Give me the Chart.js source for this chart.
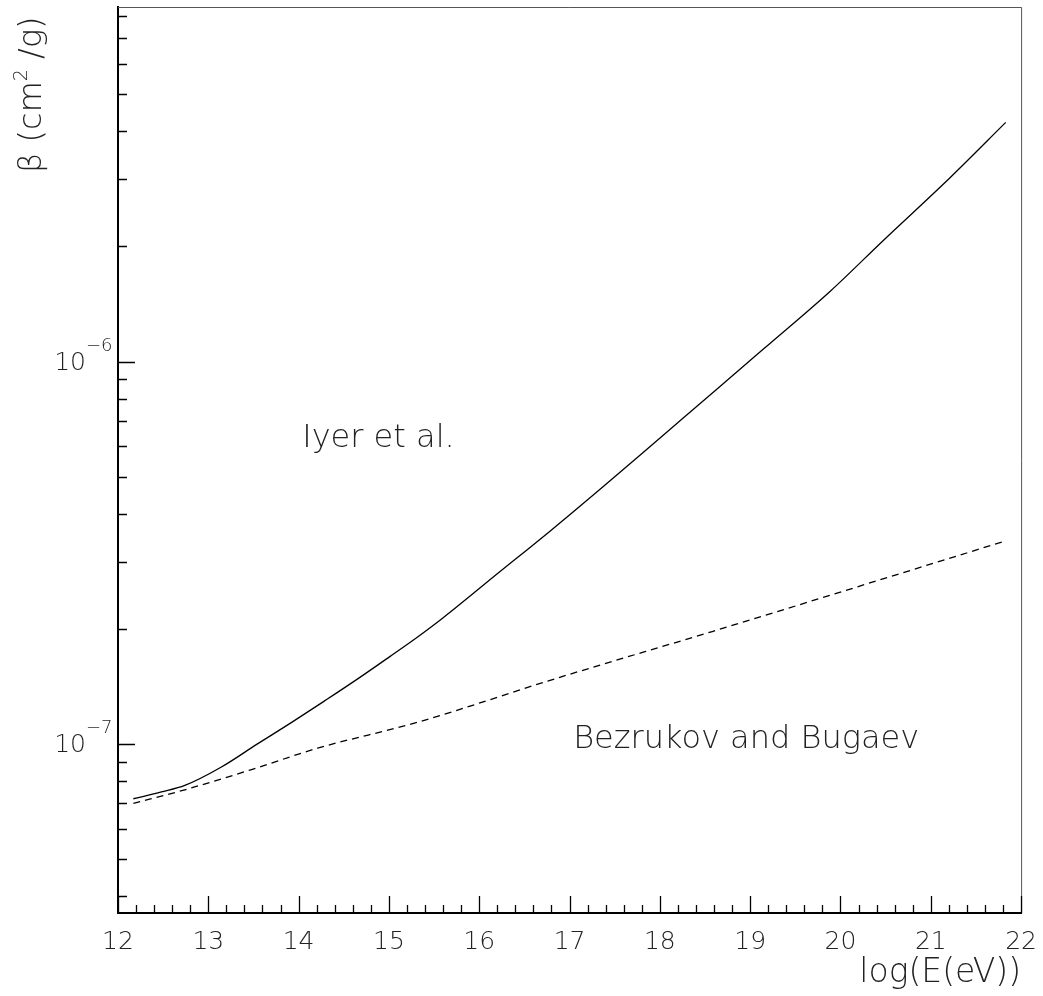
<!DOCTYPE html>
<html>
<head>
<meta charset="utf-8">
<script src="https://cdn.jsdelivr.net/npm/chart.js@4.4.0/dist/chart.umd.min.js"></script>
<style>
  body { margin: 0; background: #fff; }
  canvas { display: block; }
</style>
</head>
<body>
<canvas id="betaChart" width="1043" height="996"></canvas>
<script>
// log(E/eV) and beta (cm^2/g)
const iyerLogE = [12.17, 12.48, 12.74, 13.14, 13.54, 13.91, 14.28, 14.65, 15.01, 15.31, 15.59, 16.21, 16.80, 17.39, 18.05, 18.64, 19.15, 19.89, 20.48, 21.21, 21.83];
const iyerBeta = [7.2e-8, 7.5e-8, 7.8e-8, 8.7e-8, 1.0e-7, 1.135e-7, 1.294e-7, 1.479e-7, 1.694e-7, 1.90e-7, 2.13e-7, 2.80e-7, 3.63e-7, 4.75e-7, 6.46e-7, 8.5e-7, 1.08e-6, 1.53e-6, 2.08e-6, 3.02e-6, 4.22e-6];

const bbLogE = [12.17, 12.74, 13.47, 14.21, 15.31, 16.87, 18.58, 20.44, 21.83];
const bbBeta = [7.0e-8, 7.6e-8, 8.57e-8, 9.76e-8, 1.14e-7, 1.49e-7, 1.97e-7, 2.69e-7, 3.4e-7];

// axis ticks
const xMajorTicks = [12, 13, 14, 15, 16, 17, 18, 19, 20, 21, 22];
const xMinorStep = 0.2;
const yMajorTicks = [1e-7, 1e-6];
const yMajorExp = ['-7', '-6'];
const yMinorTicks = [4e-8, 5e-8, 6e-8, 7e-8, 8e-8, 9e-8,
                     2e-7, 3e-7, 4e-7, 5e-7, 6e-7, 7e-7, 8e-7, 9e-7,
                     2e-6, 3e-6, 4e-6, 5e-6, 6e-6, 7e-6, 8e-6];

// curve labels (placed in data coordinates)
const curveLabels = [
  { text: 'Iyer et al.', x: 14.04, y: 5.98e-7 },
  { text: 'Bezrukov and Bugaev', x: 17.04, y: 9.78e-8 }
];

const FONT = '"DejaVu Sans", sans-serif';

const toPoints = (xs, ys) => xs.map((x, i) => ({ x: x, y: ys[i] }));

// inward ROOT-style ticks, frame, y labels with exponents, curve labels, y title
const decorations = {
  id: 'decorations',
  afterDraw(chart) {
    const ctx = chart.ctx;
    const xs = chart.scales.x;
    const ys = chart.scales.y;
    const area = chart.chartArea;
    ctx.save();

    // thin frame on top and right
    ctx.strokeStyle = '#555';
    ctx.lineWidth = 1;
    ctx.beginPath();
    ctx.moveTo(area.left, area.top + 0.5);
    ctx.lineTo(area.right + 0.5, area.top + 0.5);
    ctx.lineTo(area.right + 0.5, area.bottom);
    ctx.stroke();

    ctx.strokeStyle = '#000';
    ctx.lineWidth = 1.3;
    ctx.beginPath();
    for (let v = xs.min; v <= xs.max + 1e-9; v += xMinorStep) {
      const px = Math.round(xs.getPixelForValue(v)) + 0.5;
      const major = xMajorTicks.some(t => Math.abs(t - v) < 1e-6);
      const len = major ? 17 : 8;
      ctx.moveTo(px, area.bottom);
      ctx.lineTo(px, area.bottom - len);
    }
    yMajorTicks.forEach(v => {
      const py = Math.round(ys.getPixelForValue(v)) + 0.5;
      ctx.moveTo(area.left, py);
      ctx.lineTo(area.left + 17, py);
    });
    yMinorTicks.forEach(v => {
      const py = Math.round(ys.getPixelForValue(v)) + 0.5;
      ctx.moveTo(area.left, py);
      ctx.lineTo(area.left + 9, py);
    });
    ctx.stroke();

    // y labels: 10 with superscript exponent
    ctx.fillStyle = '#222';
    ctx.textBaseline = 'alphabetic';
    yMajorTicks.forEach((v, i) => {
      const py = ys.getPixelForValue(v);
      ctx.font = '200 25px ' + FONT;
      ctx.textAlign = 'right';
      ctx.fillText('10', 86, py + 8);
      ctx.font = '200 18px ' + FONT;
      ctx.textAlign = 'left';
      ctx.fillText('\u2212' + yMajorExp[i].slice(1), 86, py - 11);
    });

    // curve labels
    ctx.font = '200 32px ' + FONT;
    ctx.textAlign = 'left';
    curveLabels.forEach(l => {
      ctx.fillText(l.text, xs.getPixelForValue(l.x), ys.getPixelForValue(l.y));
    });

    // y-axis title, rotated, with a real superscript
    ctx.translate(41, 173);
    ctx.rotate(-Math.PI / 2);
    ctx.textAlign = 'left';
    let cx = 0;
    const part = (s, size, dy) => {
      ctx.font = '200 ' + size + 'px ' + FONT;
      ctx.fillText(s, cx, dy);
      cx += ctx.measureText(s).width;
    };
    part('\u03b2 (cm', 32, 0);
    part('2', 19, -14);
    part(' /g)', 32, 0);
    ctx.restore();
  }
};

const ctx = document.getElementById('betaChart');

new Chart(ctx, {
  type: 'line',
  data: {
    datasets: [
      {
        label: 'Iyer et al.',
        data: toPoints(iyerLogE, iyerBeta),
        borderColor: '#000',
        borderWidth: 1.3,
        pointRadius: 0,
        cubicInterpolationMode: 'monotone',
        fill: false
      },
      {
        label: 'Bezrukov and Bugaev',
        data: toPoints(bbLogE, bbBeta),
        borderColor: '#000',
        borderWidth: 1.3,
        borderDash: [7, 5],
        pointRadius: 0,
        cubicInterpolationMode: 'monotone',
        fill: false
      }
    ]
  },
  options: {
    responsive: false,
    animation: false,
    layout: { padding: { top: 7, right: 18, left: 0, bottom: 0 } },
    plugins: {
      legend: { display: false },
      tooltip: { enabled: false }
    },
    scales: {
      x: {
        type: 'linear',
        min: 12,
        max: 22,
        afterFit: scale => { scale.height = 83; },
        grid: { display: false },
        border: { display: true, color: '#000', width: 2 },
        ticks: {
          stepSize: 1,
          padding: 6,
          color: '#222',
          font: { family: FONT, size: 25, weight: 200 }
        },
        title: {
          display: true,
          text: 'log(E(eV))',
          align: 'end',
          color: '#222',
          padding: { top: 0, bottom: 3 },
          font: { family: FONT, size: 33, weight: 200 }
        }
      },
      y: {
        type: 'logarithmic',
        min: 3.62e-8,
        max: 8.45e-6,
        afterFit: scale => { scale.width = 118; },
        grid: { display: false },
        border: { display: true, color: '#000', width: 2 },
        ticks: { display: false }
      }
    }
  },
  plugins: [decorations]
});
</script>
</body>
</html>
